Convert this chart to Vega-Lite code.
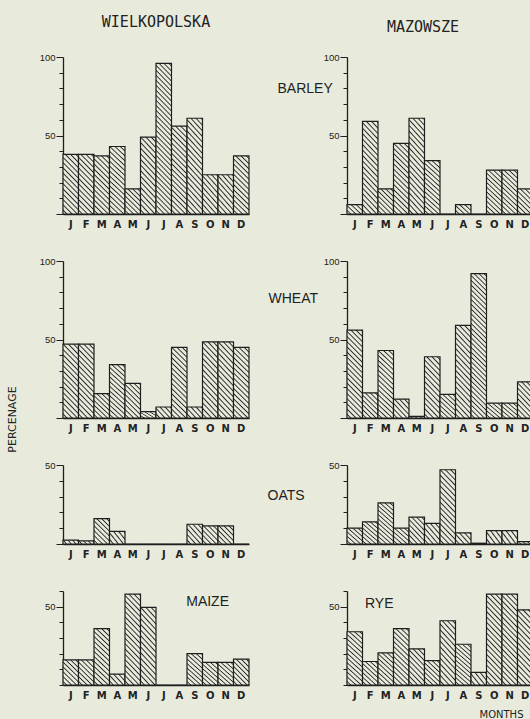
{
"$schema":"https://vega.github.io/schema/vega-lite/v6.json",
"background":"#e8ebdc",
"padding":{"left":6,"top":15,"right":0,"bottom":0},
"config":{
"view":{"stroke":null},
"axis":{"domainColor":"#1e1e1e","domainWidth":1.3,"tickColor":"#1e1e1e","labelColor":"#222","titleColor":"#222","grid":false,"titleFontWeight":"normal","titleFont":"Liberation Sans","titleFontSize":14},
"axisX":{"ticks":false,"labelAngle":0,"labelPadding":5,"labelFont":"DejaVu Sans","labelFontSize":10,"labelFontWeight":"bold"},
"axisY":{"labelFont":"Liberation Sans","labelFontSize":9.5,"labelPadding":1},
"bar":{"stroke":"#1e1e1e","strokeWidth":1.2},
"title":{"font":"DejaVu Sans Mono","fontSize":15,"fontWeight":"normal","color":"#222","frame":"group"}
},
"params":[
{"name":"gA","value":{"gradient":"linear","x1":0,"y1":1,"x2":1.154,"y2":0.769,"stops":[{"offset":0,"color":"#e8ebdc"},{"offset":0.125,"color":"#e8ebdc"},{"offset":0.1875,"color":"#262626"},{"offset":0.25,"color":"#e8ebdc"},{"offset":0.375,"color":"#e8ebdc"},{"offset":0.4375,"color":"#262626"},{"offset":0.5,"color":"#e8ebdc"},{"offset":0.625,"color":"#e8ebdc"},{"offset":0.6875,"color":"#262626"},{"offset":0.75,"color":"#e8ebdc"},{"offset":0.875,"color":"#e8ebdc"},{"offset":0.9375,"color":"#262626"},{"offset":1,"color":"#e8ebdc"}]}},
{"name":"gB","value":{"gradient":"linear","x1":0,"y1":1,"x2":1.16,"y2":0.246,"stops":[{"offset":0,"color":"#e8ebdc"},{"offset":0.1,"color":"#e8ebdc"},{"offset":0.15,"color":"#262626"},{"offset":0.2,"color":"#e8ebdc"},{"offset":0.3,"color":"#e8ebdc"},{"offset":0.35,"color":"#262626"},{"offset":0.4,"color":"#e8ebdc"},{"offset":0.5,"color":"#e8ebdc"},{"offset":0.55,"color":"#262626"},{"offset":0.6,"color":"#e8ebdc"},{"offset":0.7,"color":"#e8ebdc"},{"offset":0.75,"color":"#262626"},{"offset":0.8,"color":"#e8ebdc"},{"offset":0.9,"color":"#e8ebdc"},{"offset":0.95,"color":"#262626"},{"offset":1,"color":"#e8ebdc"}]}},
{"name":"gC","value":{"gradient":"linear","x1":0,"y1":1,"x2":0.926,"y2":-0.065,"stops":[{"offset":0,"color":"#e8ebdc"},{"offset":0.075,"color":"#e8ebdc"},{"offset":0.1125,"color":"#262626"},{"offset":0.15,"color":"#e8ebdc"},{"offset":0.225,"color":"#e8ebdc"},{"offset":0.2625,"color":"#262626"},{"offset":0.3,"color":"#e8ebdc"},{"offset":0.375,"color":"#e8ebdc"},{"offset":0.4125,"color":"#262626"},{"offset":0.45,"color":"#e8ebdc"},{"offset":0.525,"color":"#e8ebdc"},{"offset":0.5625,"color":"#262626"},{"offset":0.6,"color":"#e8ebdc"},{"offset":0.675,"color":"#e8ebdc"},{"offset":0.7125,"color":"#262626"},{"offset":0.75,"color":"#e8ebdc"},{"offset":0.825,"color":"#e8ebdc"},{"offset":0.8625,"color":"#262626"},{"offset":0.9,"color":"#e8ebdc"},{"offset":0.975,"color":"#e8ebdc"}]}},
{"name":"gD","value":{"gradient":"linear","x1":0,"y1":1,"x2":0.712,"y2":-0.175,"stops":[{"offset":0,"color":"#e8ebdc"},{"offset":0.06,"color":"#e8ebdc"},{"offset":0.09,"color":"#262626"},{"offset":0.12,"color":"#e8ebdc"},{"offset":0.18,"color":"#e8ebdc"},{"offset":0.21,"color":"#262626"},{"offset":0.24,"color":"#e8ebdc"},{"offset":0.3,"color":"#e8ebdc"},{"offset":0.33,"color":"#262626"},{"offset":0.36,"color":"#e8ebdc"},{"offset":0.42,"color":"#e8ebdc"},{"offset":0.45,"color":"#262626"},{"offset":0.48,"color":"#e8ebdc"},{"offset":0.54,"color":"#e8ebdc"},{"offset":0.57,"color":"#262626"},{"offset":0.6,"color":"#e8ebdc"},{"offset":0.66,"color":"#e8ebdc"},{"offset":0.69,"color":"#262626"},{"offset":0.72,"color":"#e8ebdc"},{"offset":0.78,"color":"#e8ebdc"},{"offset":0.81,"color":"#262626"},{"offset":0.84,"color":"#e8ebdc"},{"offset":0.9,"color":"#e8ebdc"},{"offset":0.93,"color":"#262626"},{"offset":0.96,"color":"#e8ebdc"}]}},
{"name":"gE","value":{"gradient":"linear","x1":0,"y1":1,"x2":0.536,"y2":-0.206,"stops":[{"offset":0,"color":"#e8ebdc"},{"offset":0.05,"color":"#e8ebdc"},{"offset":0.075,"color":"#262626"},{"offset":0.1,"color":"#e8ebdc"},{"offset":0.15,"color":"#e8ebdc"},{"offset":0.175,"color":"#262626"},{"offset":0.2,"color":"#e8ebdc"},{"offset":0.25,"color":"#e8ebdc"},{"offset":0.275,"color":"#262626"},{"offset":0.3,"color":"#e8ebdc"},{"offset":0.35,"color":"#e8ebdc"},{"offset":0.375,"color":"#262626"},{"offset":0.4,"color":"#e8ebdc"},{"offset":0.45,"color":"#e8ebdc"},{"offset":0.475,"color":"#262626"},{"offset":0.5,"color":"#e8ebdc"},{"offset":0.55,"color":"#e8ebdc"},{"offset":0.575,"color":"#262626"},{"offset":0.6,"color":"#e8ebdc"},{"offset":0.65,"color":"#e8ebdc"},{"offset":0.675,"color":"#262626"},{"offset":0.7,"color":"#e8ebdc"},{"offset":0.75,"color":"#e8ebdc"},{"offset":0.775,"color":"#262626"},{"offset":0.8,"color":"#e8ebdc"},{"offset":0.85,"color":"#e8ebdc"},{"offset":0.875,"color":"#262626"},{"offset":0.9,"color":"#e8ebdc"},{"offset":0.95,"color":"#e8ebdc"},{"offset":0.975,"color":"#262626"},{"offset":1,"color":"#e8ebdc"}]}},
{"name":"gF","value":{"gradient":"linear","x1":0,"y1":1,"x2":0.4,"y2":-0.2,"stops":[{"offset":0,"color":"#e8ebdc"},{"offset":0.04,"color":"#e8ebdc"},{"offset":0.06,"color":"#262626"},{"offset":0.08,"color":"#e8ebdc"},{"offset":0.12,"color":"#e8ebdc"},{"offset":0.14,"color":"#262626"},{"offset":0.16,"color":"#e8ebdc"},{"offset":0.2,"color":"#e8ebdc"},{"offset":0.22,"color":"#262626"},{"offset":0.24,"color":"#e8ebdc"},{"offset":0.28,"color":"#e8ebdc"},{"offset":0.3,"color":"#262626"},{"offset":0.32,"color":"#e8ebdc"},{"offset":0.36,"color":"#e8ebdc"},{"offset":0.38,"color":"#262626"},{"offset":0.4,"color":"#e8ebdc"},{"offset":0.44,"color":"#e8ebdc"},{"offset":0.46,"color":"#262626"},{"offset":0.48,"color":"#e8ebdc"},{"offset":0.52,"color":"#e8ebdc"},{"offset":0.54,"color":"#262626"},{"offset":0.56,"color":"#e8ebdc"},{"offset":0.6,"color":"#e8ebdc"},{"offset":0.62,"color":"#262626"},{"offset":0.64,"color":"#e8ebdc"},{"offset":0.68,"color":"#e8ebdc"},{"offset":0.7,"color":"#262626"},{"offset":0.72,"color":"#e8ebdc"},{"offset":0.76,"color":"#e8ebdc"},{"offset":0.78,"color":"#262626"},{"offset":0.8,"color":"#e8ebdc"},{"offset":0.84,"color":"#e8ebdc"},{"offset":0.86,"color":"#262626"},{"offset":0.88,"color":"#e8ebdc"},{"offset":0.92,"color":"#e8ebdc"},{"offset":0.94,"color":"#262626"},{"offset":0.96,"color":"#e8ebdc"},{"offset":1,"color":"#e8ebdc"}]}},
{"name":"gG","value":{"gradient":"linear","x1":0,"y1":1,"x2":0.311,"y2":-0.181,"stops":[{"offset":0,"color":"#e8ebdc"},{"offset":0.035,"color":"#e8ebdc"},{"offset":0.0525,"color":"#262626"},{"offset":0.07,"color":"#e8ebdc"},{"offset":0.105,"color":"#e8ebdc"},{"offset":0.1225,"color":"#262626"},{"offset":0.14,"color":"#e8ebdc"},{"offset":0.175,"color":"#e8ebdc"},{"offset":0.1925,"color":"#262626"},{"offset":0.21,"color":"#e8ebdc"},{"offset":0.245,"color":"#e8ebdc"},{"offset":0.2625,"color":"#262626"},{"offset":0.28,"color":"#e8ebdc"},{"offset":0.315,"color":"#e8ebdc"},{"offset":0.3325,"color":"#262626"},{"offset":0.35,"color":"#e8ebdc"},{"offset":0.385,"color":"#e8ebdc"},{"offset":0.4025,"color":"#262626"},{"offset":0.42,"color":"#e8ebdc"},{"offset":0.455,"color":"#e8ebdc"},{"offset":0.4725,"color":"#262626"},{"offset":0.49,"color":"#e8ebdc"},{"offset":0.525,"color":"#e8ebdc"},{"offset":0.5425,"color":"#262626"},{"offset":0.56,"color":"#e8ebdc"},{"offset":0.595,"color":"#e8ebdc"},{"offset":0.6125,"color":"#262626"},{"offset":0.63,"color":"#e8ebdc"},{"offset":0.665,"color":"#e8ebdc"},{"offset":0.6825,"color":"#262626"},{"offset":0.7,"color":"#e8ebdc"},{"offset":0.735,"color":"#e8ebdc"},{"offset":0.7525,"color":"#262626"},{"offset":0.77,"color":"#e8ebdc"},{"offset":0.805,"color":"#e8ebdc"},{"offset":0.8225,"color":"#262626"},{"offset":0.84,"color":"#e8ebdc"},{"offset":0.875,"color":"#e8ebdc"},{"offset":0.8925,"color":"#262626"},{"offset":0.91,"color":"#e8ebdc"},{"offset":0.945,"color":"#e8ebdc"},{"offset":0.9625,"color":"#262626"},{"offset":0.98,"color":"#e8ebdc"}]}},
{"name":"gH","value":{"gradient":"linear","x1":0,"y1":1,"x2":0.25,"y2":-0.161,"stops":[{"offset":0,"color":"#e8ebdc"},{"offset":0.03,"color":"#e8ebdc"},{"offset":0.045,"color":"#262626"},{"offset":0.06,"color":"#e8ebdc"},{"offset":0.09,"color":"#e8ebdc"},{"offset":0.105,"color":"#262626"},{"offset":0.12,"color":"#e8ebdc"},{"offset":0.15,"color":"#e8ebdc"},{"offset":0.165,"color":"#262626"},{"offset":0.18,"color":"#e8ebdc"},{"offset":0.21,"color":"#e8ebdc"},{"offset":0.225,"color":"#262626"},{"offset":0.24,"color":"#e8ebdc"},{"offset":0.27,"color":"#e8ebdc"},{"offset":0.285,"color":"#262626"},{"offset":0.3,"color":"#e8ebdc"},{"offset":0.33,"color":"#e8ebdc"},{"offset":0.345,"color":"#262626"},{"offset":0.36,"color":"#e8ebdc"},{"offset":0.39,"color":"#e8ebdc"},{"offset":0.405,"color":"#262626"},{"offset":0.42,"color":"#e8ebdc"},{"offset":0.45,"color":"#e8ebdc"},{"offset":0.465,"color":"#262626"},{"offset":0.48,"color":"#e8ebdc"},{"offset":0.51,"color":"#e8ebdc"},{"offset":0.525,"color":"#262626"},{"offset":0.54,"color":"#e8ebdc"},{"offset":0.57,"color":"#e8ebdc"},{"offset":0.585,"color":"#262626"},{"offset":0.6,"color":"#e8ebdc"},{"offset":0.63,"color":"#e8ebdc"},{"offset":0.645,"color":"#262626"},{"offset":0.66,"color":"#e8ebdc"},{"offset":0.69,"color":"#e8ebdc"},{"offset":0.705,"color":"#262626"},{"offset":0.72,"color":"#e8ebdc"},{"offset":0.75,"color":"#e8ebdc"},{"offset":0.765,"color":"#262626"},{"offset":0.78,"color":"#e8ebdc"},{"offset":0.81,"color":"#e8ebdc"},{"offset":0.825,"color":"#262626"},{"offset":0.84,"color":"#e8ebdc"},{"offset":0.87,"color":"#e8ebdc"},{"offset":0.885,"color":"#262626"},{"offset":0.9,"color":"#e8ebdc"},{"offset":0.93,"color":"#e8ebdc"},{"offset":0.945,"color":"#262626"},{"offset":0.96,"color":"#e8ebdc"},{"offset":0.99,"color":"#e8ebdc"}]}},
{"name":"gI","value":{"gradient":"linear","x1":0,"y1":1,"x2":0.202,"y2":-0.141,"stops":[{"offset":0,"color":"#e8ebdc"},{"offset":0.025,"color":"#e8ebdc"},{"offset":0.0375,"color":"#262626"},{"offset":0.05,"color":"#e8ebdc"},{"offset":0.075,"color":"#e8ebdc"},{"offset":0.0875,"color":"#262626"},{"offset":0.1,"color":"#e8ebdc"},{"offset":0.125,"color":"#e8ebdc"},{"offset":0.1375,"color":"#262626"},{"offset":0.15,"color":"#e8ebdc"},{"offset":0.175,"color":"#e8ebdc"},{"offset":0.1875,"color":"#262626"},{"offset":0.2,"color":"#e8ebdc"},{"offset":0.225,"color":"#e8ebdc"},{"offset":0.2375,"color":"#262626"},{"offset":0.25,"color":"#e8ebdc"},{"offset":0.275,"color":"#e8ebdc"},{"offset":0.2875,"color":"#262626"},{"offset":0.3,"color":"#e8ebdc"},{"offset":0.325,"color":"#e8ebdc"},{"offset":0.3375,"color":"#262626"},{"offset":0.35,"color":"#e8ebdc"},{"offset":0.375,"color":"#e8ebdc"},{"offset":0.3875,"color":"#262626"},{"offset":0.4,"color":"#e8ebdc"},{"offset":0.425,"color":"#e8ebdc"},{"offset":0.4375,"color":"#262626"},{"offset":0.45,"color":"#e8ebdc"},{"offset":0.475,"color":"#e8ebdc"},{"offset":0.4875,"color":"#262626"},{"offset":0.5,"color":"#e8ebdc"},{"offset":0.525,"color":"#e8ebdc"},{"offset":0.5375,"color":"#262626"},{"offset":0.55,"color":"#e8ebdc"},{"offset":0.575,"color":"#e8ebdc"},{"offset":0.5875,"color":"#262626"},{"offset":0.6,"color":"#e8ebdc"},{"offset":0.625,"color":"#e8ebdc"},{"offset":0.6375,"color":"#262626"},{"offset":0.65,"color":"#e8ebdc"},{"offset":0.675,"color":"#e8ebdc"},{"offset":0.6875,"color":"#262626"},{"offset":0.7,"color":"#e8ebdc"},{"offset":0.725,"color":"#e8ebdc"},{"offset":0.7375,"color":"#262626"},{"offset":0.75,"color":"#e8ebdc"},{"offset":0.775,"color":"#e8ebdc"},{"offset":0.7875,"color":"#262626"},{"offset":0.8,"color":"#e8ebdc"},{"offset":0.825,"color":"#e8ebdc"},{"offset":0.8375,"color":"#262626"},{"offset":0.85,"color":"#e8ebdc"},{"offset":0.875,"color":"#e8ebdc"},{"offset":0.8875,"color":"#262626"},{"offset":0.9,"color":"#e8ebdc"},{"offset":0.925,"color":"#e8ebdc"},{"offset":0.9375,"color":"#262626"},{"offset":0.95,"color":"#e8ebdc"},{"offset":0.975,"color":"#e8ebdc"},{"offset":0.9875,"color":"#262626"},{"offset":1,"color":"#e8ebdc"}]}},
{"name":"gJ","value":{"gradient":"linear","x1":0,"y1":1,"x2":0.158,"y2":-0.119,"stops":[{"offset":0,"color":"#e8ebdc"},{"offset":0.02,"color":"#e8ebdc"},{"offset":0.03,"color":"#262626"},{"offset":0.04,"color":"#e8ebdc"},{"offset":0.06,"color":"#e8ebdc"},{"offset":0.07,"color":"#262626"},{"offset":0.08,"color":"#e8ebdc"},{"offset":0.1,"color":"#e8ebdc"},{"offset":0.11,"color":"#262626"},{"offset":0.12,"color":"#e8ebdc"},{"offset":0.14,"color":"#e8ebdc"},{"offset":0.15,"color":"#262626"},{"offset":0.16,"color":"#e8ebdc"},{"offset":0.18,"color":"#e8ebdc"},{"offset":0.19,"color":"#262626"},{"offset":0.2,"color":"#e8ebdc"},{"offset":0.22,"color":"#e8ebdc"},{"offset":0.23,"color":"#262626"},{"offset":0.24,"color":"#e8ebdc"},{"offset":0.26,"color":"#e8ebdc"},{"offset":0.27,"color":"#262626"},{"offset":0.28,"color":"#e8ebdc"},{"offset":0.3,"color":"#e8ebdc"},{"offset":0.31,"color":"#262626"},{"offset":0.32,"color":"#e8ebdc"},{"offset":0.34,"color":"#e8ebdc"},{"offset":0.35,"color":"#262626"},{"offset":0.36,"color":"#e8ebdc"},{"offset":0.38,"color":"#e8ebdc"},{"offset":0.39,"color":"#262626"},{"offset":0.4,"color":"#e8ebdc"},{"offset":0.42,"color":"#e8ebdc"},{"offset":0.43,"color":"#262626"},{"offset":0.44,"color":"#e8ebdc"},{"offset":0.46,"color":"#e8ebdc"},{"offset":0.47,"color":"#262626"},{"offset":0.48,"color":"#e8ebdc"},{"offset":0.5,"color":"#e8ebdc"},{"offset":0.51,"color":"#262626"},{"offset":0.52,"color":"#e8ebdc"},{"offset":0.54,"color":"#e8ebdc"},{"offset":0.55,"color":"#262626"},{"offset":0.56,"color":"#e8ebdc"},{"offset":0.58,"color":"#e8ebdc"},{"offset":0.59,"color":"#262626"},{"offset":0.6,"color":"#e8ebdc"},{"offset":0.62,"color":"#e8ebdc"},{"offset":0.63,"color":"#262626"},{"offset":0.64,"color":"#e8ebdc"},{"offset":0.66,"color":"#e8ebdc"},{"offset":0.67,"color":"#262626"},{"offset":0.68,"color":"#e8ebdc"},{"offset":0.7,"color":"#e8ebdc"},{"offset":0.71,"color":"#262626"},{"offset":0.72,"color":"#e8ebdc"},{"offset":0.74,"color":"#e8ebdc"},{"offset":0.75,"color":"#262626"},{"offset":0.76,"color":"#e8ebdc"},{"offset":0.78,"color":"#e8ebdc"},{"offset":0.79,"color":"#262626"},{"offset":0.8,"color":"#e8ebdc"},{"offset":0.82,"color":"#e8ebdc"},{"offset":0.83,"color":"#262626"},{"offset":0.84,"color":"#e8ebdc"},{"offset":0.86,"color":"#e8ebdc"},{"offset":0.87,"color":"#262626"},{"offset":0.88,"color":"#e8ebdc"},{"offset":0.9,"color":"#e8ebdc"},{"offset":0.91,"color":"#262626"},{"offset":0.92,"color":"#e8ebdc"},{"offset":0.94,"color":"#e8ebdc"},{"offset":0.95,"color":"#262626"},{"offset":0.96,"color":"#e8ebdc"},{"offset":0.98,"color":"#e8ebdc"},{"offset":0.99,"color":"#262626"},{"offset":1,"color":"#e8ebdc"}]}},
{"name":"gK","value":{"gradient":"linear","x1":0,"y1":1,"x2":0.116,"y2":-0.094,"stops":[{"offset":0,"color":"#e8ebdc"},{"offset":0.015,"color":"#e8ebdc"},{"offset":0.0225,"color":"#262626"},{"offset":0.03,"color":"#e8ebdc"},{"offset":0.045,"color":"#e8ebdc"},{"offset":0.0525,"color":"#262626"},{"offset":0.06,"color":"#e8ebdc"},{"offset":0.075,"color":"#e8ebdc"},{"offset":0.0825,"color":"#262626"},{"offset":0.09,"color":"#e8ebdc"},{"offset":0.105,"color":"#e8ebdc"},{"offset":0.1125,"color":"#262626"},{"offset":0.12,"color":"#e8ebdc"},{"offset":0.135,"color":"#e8ebdc"},{"offset":0.1425,"color":"#262626"},{"offset":0.15,"color":"#e8ebdc"},{"offset":0.165,"color":"#e8ebdc"},{"offset":0.1725,"color":"#262626"},{"offset":0.18,"color":"#e8ebdc"},{"offset":0.195,"color":"#e8ebdc"},{"offset":0.2025,"color":"#262626"},{"offset":0.21,"color":"#e8ebdc"},{"offset":0.225,"color":"#e8ebdc"},{"offset":0.2325,"color":"#262626"},{"offset":0.24,"color":"#e8ebdc"},{"offset":0.255,"color":"#e8ebdc"},{"offset":0.2625,"color":"#262626"},{"offset":0.27,"color":"#e8ebdc"},{"offset":0.285,"color":"#e8ebdc"},{"offset":0.2925,"color":"#262626"},{"offset":0.3,"color":"#e8ebdc"},{"offset":0.315,"color":"#e8ebdc"},{"offset":0.3225,"color":"#262626"},{"offset":0.33,"color":"#e8ebdc"},{"offset":0.345,"color":"#e8ebdc"},{"offset":0.3525,"color":"#262626"},{"offset":0.36,"color":"#e8ebdc"},{"offset":0.375,"color":"#e8ebdc"},{"offset":0.3825,"color":"#262626"},{"offset":0.39,"color":"#e8ebdc"},{"offset":0.405,"color":"#e8ebdc"},{"offset":0.4125,"color":"#262626"},{"offset":0.42,"color":"#e8ebdc"},{"offset":0.435,"color":"#e8ebdc"},{"offset":0.4425,"color":"#262626"},{"offset":0.45,"color":"#e8ebdc"},{"offset":0.465,"color":"#e8ebdc"},{"offset":0.4725,"color":"#262626"},{"offset":0.48,"color":"#e8ebdc"},{"offset":0.495,"color":"#e8ebdc"},{"offset":0.5025,"color":"#262626"},{"offset":0.51,"color":"#e8ebdc"},{"offset":0.525,"color":"#e8ebdc"},{"offset":0.5325,"color":"#262626"},{"offset":0.54,"color":"#e8ebdc"},{"offset":0.555,"color":"#e8ebdc"},{"offset":0.5625,"color":"#262626"},{"offset":0.57,"color":"#e8ebdc"},{"offset":0.585,"color":"#e8ebdc"},{"offset":0.5925,"color":"#262626"},{"offset":0.6,"color":"#e8ebdc"},{"offset":0.615,"color":"#e8ebdc"},{"offset":0.6225,"color":"#262626"},{"offset":0.63,"color":"#e8ebdc"},{"offset":0.645,"color":"#e8ebdc"},{"offset":0.6525,"color":"#262626"},{"offset":0.66,"color":"#e8ebdc"},{"offset":0.675,"color":"#e8ebdc"},{"offset":0.6825,"color":"#262626"},{"offset":0.69,"color":"#e8ebdc"},{"offset":0.705,"color":"#e8ebdc"},{"offset":0.7125,"color":"#262626"},{"offset":0.72,"color":"#e8ebdc"},{"offset":0.735,"color":"#e8ebdc"},{"offset":0.7425,"color":"#262626"},{"offset":0.75,"color":"#e8ebdc"},{"offset":0.765,"color":"#e8ebdc"},{"offset":0.7725,"color":"#262626"},{"offset":0.78,"color":"#e8ebdc"},{"offset":0.795,"color":"#e8ebdc"},{"offset":0.8025,"color":"#262626"},{"offset":0.81,"color":"#e8ebdc"},{"offset":0.825,"color":"#e8ebdc"},{"offset":0.8325,"color":"#262626"},{"offset":0.84,"color":"#e8ebdc"},{"offset":0.855,"color":"#e8ebdc"},{"offset":0.8625,"color":"#262626"},{"offset":0.87,"color":"#e8ebdc"},{"offset":0.885,"color":"#e8ebdc"},{"offset":0.8925,"color":"#262626"},{"offset":0.9,"color":"#e8ebdc"},{"offset":0.915,"color":"#e8ebdc"},{"offset":0.9225,"color":"#262626"},{"offset":0.93,"color":"#e8ebdc"},{"offset":0.945,"color":"#e8ebdc"},{"offset":0.9525,"color":"#262626"},{"offset":0.96,"color":"#e8ebdc"},{"offset":0.975,"color":"#e8ebdc"},{"offset":0.9825,"color":"#262626"},{"offset":0.99,"color":"#e8ebdc"},{"offset":1,"color":"#e8ebdc"}]}}
],
"data":{"values":[
{"r":"W","c":"barley","m":"Jan","v":38},{"r":"W","c":"barley","m":"Feb","v":38},{"r":"W","c":"barley","m":"Mar","v":37},{"r":"W","c":"barley","m":"Apr","v":43},{"r":"W","c":"barley","m":"May","v":16},{"r":"W","c":"barley","m":"Jun","v":49},{"r":"W","c":"barley","m":"Jul","v":96},{"r":"W","c":"barley","m":"Aug","v":56},{"r":"W","c":"barley","m":"Sep","v":61},{"r":"W","c":"barley","m":"Oct","v":25},{"r":"W","c":"barley","m":"Nov","v":25},{"r":"W","c":"barley","m":"Dec","v":37},
{"r":"M","c":"barley","m":"Jan","v":6},{"r":"M","c":"barley","m":"Feb","v":59},{"r":"M","c":"barley","m":"Mar","v":16},{"r":"M","c":"barley","m":"Apr","v":45},{"r":"M","c":"barley","m":"May","v":61},{"r":"M","c":"barley","m":"Jun","v":34},{"r":"M","c":"barley","m":"Jul","v":0},{"r":"M","c":"barley","m":"Aug","v":6},{"r":"M","c":"barley","m":"Sep","v":0},{"r":"M","c":"barley","m":"Oct","v":28},{"r":"M","c":"barley","m":"Nov","v":28},{"r":"M","c":"barley","m":"Dec","v":16},
{"r":"W","c":"wheat","m":"Jan","v":47},{"r":"W","c":"wheat","m":"Feb","v":47},{"r":"W","c":"wheat","m":"Mar","v":15.5},{"r":"W","c":"wheat","m":"Apr","v":34},{"r":"W","c":"wheat","m":"May","v":22},{"r":"W","c":"wheat","m":"Jun","v":4},{"r":"W","c":"wheat","m":"Jul","v":7},{"r":"W","c":"wheat","m":"Aug","v":45},{"r":"W","c":"wheat","m":"Sep","v":7},{"r":"W","c":"wheat","m":"Oct","v":48.5},{"r":"W","c":"wheat","m":"Nov","v":48.5},{"r":"W","c":"wheat","m":"Dec","v":45},
{"r":"M","c":"wheat","m":"Jan","v":56},{"r":"M","c":"wheat","m":"Feb","v":16},{"r":"M","c":"wheat","m":"Mar","v":43},{"r":"M","c":"wheat","m":"Apr","v":12},{"r":"M","c":"wheat","m":"May","v":1},{"r":"M","c":"wheat","m":"Jun","v":39},{"r":"M","c":"wheat","m":"Jul","v":15},{"r":"M","c":"wheat","m":"Aug","v":59},{"r":"M","c":"wheat","m":"Sep","v":92},{"r":"M","c":"wheat","m":"Oct","v":9.5},{"r":"M","c":"wheat","m":"Nov","v":9.5},{"r":"M","c":"wheat","m":"Dec","v":23},
{"r":"W","c":"oats","m":"Jan","v":2.5},{"r":"W","c":"oats","m":"Feb","v":2},{"r":"W","c":"oats","m":"Mar","v":16},{"r":"W","c":"oats","m":"Apr","v":8},{"r":"W","c":"oats","m":"May","v":0},{"r":"W","c":"oats","m":"Jun","v":0},{"r":"W","c":"oats","m":"Jul","v":0},{"r":"W","c":"oats","m":"Aug","v":0},{"r":"W","c":"oats","m":"Sep","v":12.5},{"r":"W","c":"oats","m":"Oct","v":11.5},{"r":"W","c":"oats","m":"Nov","v":11.5},{"r":"W","c":"oats","m":"Dec","v":0},
{"r":"M","c":"oats","m":"Jan","v":10},{"r":"M","c":"oats","m":"Feb","v":14},{"r":"M","c":"oats","m":"Mar","v":26},{"r":"M","c":"oats","m":"Apr","v":10},{"r":"M","c":"oats","m":"May","v":17},{"r":"M","c":"oats","m":"Jun","v":13},{"r":"M","c":"oats","m":"Jul","v":47},{"r":"M","c":"oats","m":"Aug","v":7},{"r":"M","c":"oats","m":"Sep","v":0.5},{"r":"M","c":"oats","m":"Oct","v":8.5},{"r":"M","c":"oats","m":"Nov","v":8.5},{"r":"M","c":"oats","m":"Dec","v":1.5},
{"r":"W","c":"maize","m":"Jan","v":16},{"r":"W","c":"maize","m":"Feb","v":16},{"r":"W","c":"maize","m":"Mar","v":36},{"r":"W","c":"maize","m":"Apr","v":7},{"r":"W","c":"maize","m":"May","v":58},{"r":"W","c":"maize","m":"Jun","v":49.5},{"r":"W","c":"maize","m":"Jul","v":0},{"r":"W","c":"maize","m":"Aug","v":0},{"r":"W","c":"maize","m":"Sep","v":20},{"r":"W","c":"maize","m":"Oct","v":14.5},{"r":"W","c":"maize","m":"Nov","v":14.5},{"r":"W","c":"maize","m":"Dec","v":16.5},
{"r":"M","c":"rye","m":"Jan","v":34},{"r":"M","c":"rye","m":"Feb","v":15},{"r":"M","c":"rye","m":"Mar","v":20.5},{"r":"M","c":"rye","m":"Apr","v":36},{"r":"M","c":"rye","m":"May","v":23},{"r":"M","c":"rye","m":"Jun","v":15.5},{"r":"M","c":"rye","m":"Jul","v":41},{"r":"M","c":"rye","m":"Aug","v":26},{"r":"M","c":"rye","m":"Sep","v":8},{"r":"M","c":"rye","m":"Oct","v":58},{"r":"M","c":"rye","m":"Nov","v":58},{"r":"M","c":"rye","m":"Dec","v":48}
]},
"columns":2,
"bounds":"flush",
"spacing":{"row":47,"column":98},
"concat":[
{"width":186,"height":157,"title":{"text":"WIELKOPOLSKA","offset":22},
"transform":[{"filter":"datum.r=='W' && datum.c=='barley'"}],
"mark":"bar",
"encoding":{
"x":{"field":"m","type":"ordinal","sort":null,"scale":{"paddingInner":0,"paddingOuter":0},"axis":{"labelExpr":"substring(datum.label,0,1)","title":null}},
"y":{"field":"v","type":"quantitative","scale":{"domain":[0,100],"nice":false},"axis":{"values":[0,10,20,30,40,50,60,70,80,90,100],"labelExpr":"datum.value%50==0 && datum.value>0 ? datum.label : ''","tickSize":{"condition":{"test":"datum.value%50==0","value":7},"value":4},"title":null}},
"color":{"field":"v","type":"quantitative","scale":{"type":"threshold","domain":[4,9,14,19,26,34,42,51,62,80],"range":[{"expr":"gA"},{"expr":"gB"},{"expr":"gC"},{"expr":"gD"},{"expr":"gE"},{"expr":"gF"},{"expr":"gG"},{"expr":"gH"},{"expr":"gI"},{"expr":"gJ"},{"expr":"gK"}]},"legend":null}}},
{"width":186,"height":157,"title":{"text":"MAZOWSZE","offset":17,"dx":-17},
"transform":[{"filter":"datum.r=='M' && datum.c=='barley'"}],
"mark":"bar",
"encoding":{
"x":{"field":"m","type":"ordinal","sort":null,"scale":{"paddingInner":0,"paddingOuter":0},"axis":{"labelExpr":"substring(datum.label,0,1)","title":null}},
"y":{"field":"v","type":"quantitative","scale":{"domain":[0,100],"nice":false},"axis":{"values":[0,10,20,30,40,50,60,70,80,90,100],"labelExpr":"datum.value%50==0 && datum.value>0 ? datum.label : ''","tickSize":{"condition":{"test":"datum.value%50==0","value":7},"value":4},"title":"BARLEY","titleAngle":0,"titleAlign":"left","titleBaseline":"middle","titleX":-70,"titleY":31}},
"color":{"field":"v","type":"quantitative","scale":{"type":"threshold","domain":[4,9,14,19,26,34,42,51,62,80],"range":[{"expr":"gA"},{"expr":"gB"},{"expr":"gC"},{"expr":"gD"},{"expr":"gE"},{"expr":"gF"},{"expr":"gG"},{"expr":"gH"},{"expr":"gI"},{"expr":"gJ"},{"expr":"gK"}]},"legend":null}}},
{"width":186,"height":157,
"transform":[{"filter":"datum.r=='W' && datum.c=='wheat'"}],
"mark":"bar",
"encoding":{
"x":{"field":"m","type":"ordinal","sort":null,"scale":{"paddingInner":0,"paddingOuter":0},"axis":{"labelExpr":"substring(datum.label,0,1)","title":null}},
"y":{"field":"v","type":"quantitative","scale":{"domain":[0,100],"nice":false},"axis":{"values":[0,10,20,30,40,50,60,70,80,90,100],"labelExpr":"datum.value%50==0 && datum.value>0 ? datum.label : ''","tickSize":{"condition":{"test":"datum.value%50==0","value":7},"value":4},"title":"PERCENAGE","titleFont":"DejaVu Sans","titleFontSize":11,"titleAngle":-90,"titleAlign":"center","titleBaseline":"middle","titleX":-51,"titleY":158}},
"color":{"field":"v","type":"quantitative","scale":{"type":"threshold","domain":[4,9,14,19,26,34,42,51,62,80],"range":[{"expr":"gA"},{"expr":"gB"},{"expr":"gC"},{"expr":"gD"},{"expr":"gE"},{"expr":"gF"},{"expr":"gG"},{"expr":"gH"},{"expr":"gI"},{"expr":"gJ"},{"expr":"gK"}]},"legend":null}}},
{"width":186,"height":157,
"transform":[{"filter":"datum.r=='M' && datum.c=='wheat'"}],
"mark":"bar",
"encoding":{
"x":{"field":"m","type":"ordinal","sort":null,"scale":{"paddingInner":0,"paddingOuter":0},"axis":{"labelExpr":"substring(datum.label,0,1)","title":null}},
"y":{"field":"v","type":"quantitative","scale":{"domain":[0,100],"nice":false},"axis":{"values":[0,10,20,30,40,50,60,70,80,90,100],"labelExpr":"datum.value%50==0 && datum.value>0 ? datum.label : ''","tickSize":{"condition":{"test":"datum.value%50==0","value":7},"value":4},"title":"WHEAT","titleAngle":0,"titleAlign":"left","titleBaseline":"middle","titleX":-79,"titleY":37}},
"color":{"field":"v","type":"quantitative","scale":{"type":"threshold","domain":[4,9,14,19,26,34,42,51,62,80],"range":[{"expr":"gA"},{"expr":"gB"},{"expr":"gC"},{"expr":"gD"},{"expr":"gE"},{"expr":"gF"},{"expr":"gG"},{"expr":"gH"},{"expr":"gI"},{"expr":"gJ"},{"expr":"gK"}]},"legend":null}}},
{"width":186,"height":79,
"transform":[{"filter":"datum.r=='W' && datum.c=='oats'"}],
"mark":"bar",
"encoding":{
"x":{"field":"m","type":"ordinal","sort":null,"scale":{"paddingInner":0,"paddingOuter":0},"axis":{"labelExpr":"substring(datum.label,0,1)","title":null}},
"y":{"field":"v","type":"quantitative","scale":{"domain":[0,50],"nice":false},"axis":{"values":[0,10,20,30,40,50],"labelExpr":"datum.value==50 ? datum.label : ''","tickSize":{"condition":{"test":"datum.value%50==0","value":7},"value":4},"title":null}},
"color":{"field":"v","type":"quantitative","scale":{"type":"threshold","domain":[4,9,14,19,26,34,42,51,62,80],"range":[{"expr":"gA"},{"expr":"gB"},{"expr":"gC"},{"expr":"gD"},{"expr":"gE"},{"expr":"gF"},{"expr":"gG"},{"expr":"gH"},{"expr":"gI"},{"expr":"gJ"},{"expr":"gK"}]},"legend":null}}},
{"width":186,"height":79,
"transform":[{"filter":"datum.r=='M' && datum.c=='oats'"}],
"mark":"bar",
"encoding":{
"x":{"field":"m","type":"ordinal","sort":null,"scale":{"paddingInner":0,"paddingOuter":0},"axis":{"labelExpr":"substring(datum.label,0,1)","title":null}},
"y":{"field":"v","type":"quantitative","scale":{"domain":[0,50],"nice":false},"axis":{"values":[0,10,20,30,40,50],"labelExpr":"datum.value==50 ? datum.label : ''","tickSize":{"condition":{"test":"datum.value%50==0","value":7},"value":4},"title":"OATS","titleAngle":0,"titleAlign":"left","titleBaseline":"middle","titleX":-80,"titleY":30}},
"color":{"field":"v","type":"quantitative","scale":{"type":"threshold","domain":[4,9,14,19,26,34,42,51,62,80],"range":[{"expr":"gA"},{"expr":"gB"},{"expr":"gC"},{"expr":"gD"},{"expr":"gE"},{"expr":"gF"},{"expr":"gG"},{"expr":"gH"},{"expr":"gI"},{"expr":"gJ"},{"expr":"gK"}]},"legend":null}}},
{"width":186,"height":94,"title":{"text":"MAIZE","anchor":"end","dx":-20,"offset":-18,"font":"Liberation Sans","fontSize":14},
"transform":[{"filter":"datum.r=='W' && datum.c=='maize'"}],
"mark":"bar",
"encoding":{
"x":{"field":"m","type":"ordinal","sort":null,"scale":{"paddingInner":0,"paddingOuter":0},"axis":{"labelExpr":"substring(datum.label,0,1)","title":null}},
"y":{"field":"v","type":"quantitative","scale":{"domain":[0,60],"nice":false},"axis":{"values":[0,10,20,30,40,50,60],"labelExpr":"datum.value==50 ? datum.label : ''","tickSize":{"condition":{"test":"datum.value==50","value":7},"value":4},"title":null}},
"color":{"field":"v","type":"quantitative","scale":{"type":"threshold","domain":[4,9,14,19,26,34,42,51,62,80],"range":[{"expr":"gA"},{"expr":"gB"},{"expr":"gC"},{"expr":"gD"},{"expr":"gE"},{"expr":"gF"},{"expr":"gG"},{"expr":"gH"},{"expr":"gI"},{"expr":"gJ"},{"expr":"gK"}]},"legend":null}}},
{"width":186,"height":94,"title":{"text":"RYE","anchor":"start","dx":18,"offset":-20,"font":"Liberation Sans","fontSize":14},
"transform":[{"filter":"datum.r=='M' && datum.c=='rye'"}],
"mark":"bar",
"encoding":{
"x":{"field":"m","type":"ordinal","sort":null,"scale":{"paddingInner":0,"paddingOuter":0},"axis":{"labelExpr":"substring(datum.label,0,1)","title":"MONTHS","titleFont":"DejaVu Sans","titleFontSize":10,"titleAlign":"right","titleBaseline":"middle","titleX":176,"titleY":29}},
"y":{"field":"v","type":"quantitative","scale":{"domain":[0,60],"nice":false},"axis":{"values":[0,10,20,30,40,50,60],"labelExpr":"datum.value==50 ? datum.label : ''","tickSize":{"condition":{"test":"datum.value==50","value":7},"value":4},"title":null}},
"color":{"field":"v","type":"quantitative","scale":{"type":"threshold","domain":[4,9,14,19,26,34,42,51,62,80],"range":[{"expr":"gA"},{"expr":"gB"},{"expr":"gC"},{"expr":"gD"},{"expr":"gE"},{"expr":"gF"},{"expr":"gG"},{"expr":"gH"},{"expr":"gI"},{"expr":"gJ"},{"expr":"gK"}]},"legend":null}}}
]
}
